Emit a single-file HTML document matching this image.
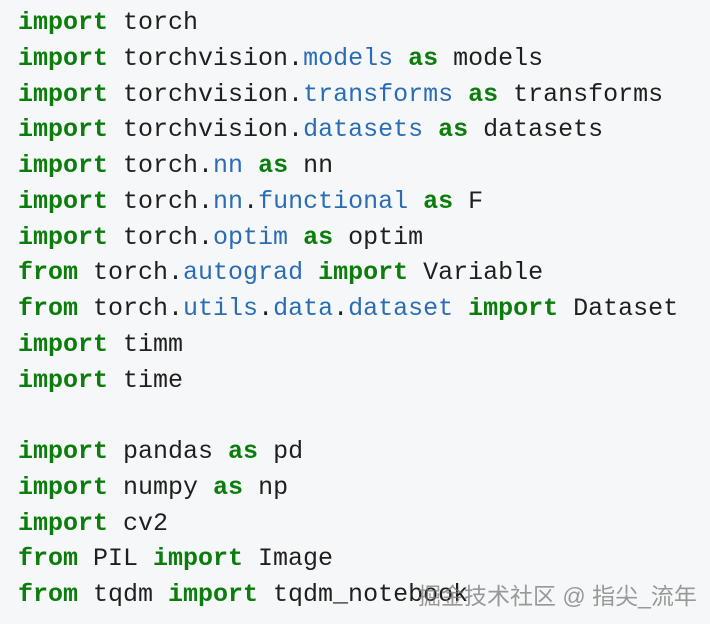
<!DOCTYPE html>
<html><head><meta charset="utf-8"><style>
html,body{margin:0;padding:0;}
body{width:710px;height:624px;background:#f6f7f8;overflow:hidden;position:relative;}
pre{margin:0;position:absolute;left:18px;top:5px;font-family:"Liberation Mono",monospace;font-size:25px;line-height:35.75px;color:#1f1f1f;}
.k{color:#0b7d0b;font-weight:bold;}
.m{color:#2a6db5;}
.wm{position:absolute;left:418px;top:577px;font-family:"Liberation Sans","Noto Sans CJK SC",sans-serif;font-size:23px;color:rgba(120,120,120,0.75);}
</style></head><body>
<pre><span class="k">import</span> torch
<span class="k">import</span> torchvision.<span class="m">models</span> <span class="k">as</span> models
<span class="k">import</span> torchvision.<span class="m">transforms</span> <span class="k">as</span> transforms
<span class="k">import</span> torchvision.<span class="m">datasets</span> <span class="k">as</span> datasets
<span class="k">import</span> torch.<span class="m">nn</span> <span class="k">as</span> nn
<span class="k">import</span> torch.<span class="m">nn</span>.<span class="m">functional</span> <span class="k">as</span> F
<span class="k">import</span> torch.<span class="m">optim</span> <span class="k">as</span> optim
<span class="k">from</span> torch.<span class="m">autograd</span> <span class="k">import</span> Variable
<span class="k">from</span> torch.<span class="m">utils</span>.<span class="m">data</span>.<span class="m">dataset</span> <span class="k">import</span> Dataset
<span class="k">import</span> timm
<span class="k">import</span> time

<span class="k">import</span> pandas <span class="k">as</span> pd
<span class="k">import</span> numpy <span class="k">as</span> np
<span class="k">import</span> cv2
<span class="k">from</span> PIL <span class="k">import</span> Image
<span class="k">from</span> tqdm <span class="k">import</span> tqdm_notebook</pre>
<div class="wm">掘金技术社区 @ 指尖_流年</div>
</body></html>
